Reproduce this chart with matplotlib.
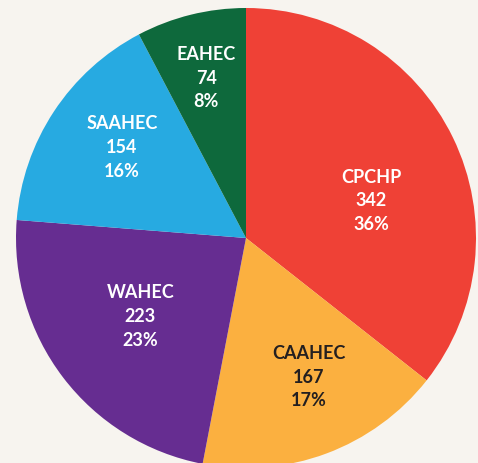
import numpy as np
import matplotlib.pyplot as plt

names = ['CPCHP', 'CAAHEC', 'WAHEC', 'SAAHEC', 'EAHEC']
counts = [342, 167, 223, 154, 74]
percents = ['36%', '17%', '23%', '16%', '8%']
colors = ['#EF4136', '#FBB040', '#662D91', '#27AAE1', '#0E693C']
text_colors = ['white', '#231F20', 'white', 'white', 'white']
label_dist = [0.57, 0.66, 0.57, 0.67, 0.72]
label_shift = [-9, 4, -1, -3, 0]   # degrees, nudge from wedge middle

bg = '#F7F4EF'
fig = plt.figure(figsize=(4.78, 4.64), dpi=100, facecolor=bg)
ax = fig.add_axes([0, 0, 1, 1])
ax.set_facecolor(bg)

r_px = 230
cx, cy = 246, 239
wedges, _ = ax.pie(counts, colors=colors, startangle=90, counterclock=False,
                   radius=1, wedgeprops=dict(linewidth=0))

for w, n, c, p, tc, d, s in zip(wedges, names, counts, percents, text_colors, label_dist, label_shift):
    mid = np.deg2rad((w.theta1 + w.theta2) / 2 + s)
    ax.text(d * np.cos(mid), d * np.sin(mid), f'{n}\n{c}\n{p}', ha='center', va='center',
            color=tc, fontsize=13, fontweight='bold', family='Lato', linespacing=1.48)

ax.set_xlim(-cx / r_px, (478 - cx) / r_px)
ax.set_ylim(-(464 - cy) / r_px, cy / r_px)
ax.set_aspect('auto')
ax.axis('off')

fig.savefig('out.png', dpi=100, facecolor=bg)
